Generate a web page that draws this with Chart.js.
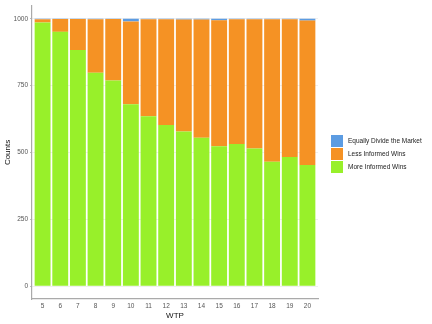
<!DOCTYPE html>
<html><head><meta charset="utf-8">
<script src="https://cdn.jsdelivr.net/npm/chart.js@4/dist/chart.umd.min.js"></script>
<style>html,body{margin:0;padding:0;background:#fff}#wrap{width:432px;height:324px}</style>
</head><body><div id="wrap"><canvas id="c" width="432" height="324"></canvas></div>
<script>
const categories = [5,6,7,8,9,10,11,12,13,14,15,16,17,18,19,20];
const moreInformed = [986,951,883,798,769,680,635,603,578,555,523,532,515,465,483,453];
const equallyDivide = [2,1,1,2,1,10,2,2,3,3,6,2,2,2,2,7];
const lessInformed = moreInformed.map((v,i)=>1000 - v - equallyDivide[i]);
const yTicks = [0,250,500,750,1000];
const seriesNames = ['More Informed Wins','Less Informed Wins','Equally Divide the Market'];
const seriesColors = ['rgb(152,240,42)','rgb(245,146,36)','rgb(92,156,226)'];

const toPts = arr => arr.map((v,i)=>({x:categories[i], y:v}));

const sideLegend = {
  id:'sideLegend',
  afterDraw(chart){
    const c = chart.ctx;
    const items = chart.data.datasets.map(d=>({label:d.label,color:d.backgroundColor})).reverse();
    const x0 = 331, boxW = 12, boxH = 12, step = 13;
    const top = 135;
    c.save();
    c.font = '6.5px "Liberation Sans"';
    c.textBaseline = 'middle';
    items.forEach((it,i)=>{
      const y = top + i*step;
      c.fillStyle = it.color;
      c.fillRect(x0, y, boxW, boxH);
      c.fillStyle = '#222';
      c.fillText(it.label, x0 + boxW + 5, y + boxH/2 + 0.5);
    });
    c.restore();
  }
};

new Chart(document.getElementById('c'), {
  type: 'bar',
  data: {
    datasets: [
      {label:seriesNames[0], data: toPts(moreInformed), backgroundColor:seriesColors[0]},
      {label:seriesNames[1], data: toPts(lessInformed), backgroundColor:seriesColors[1]},
      {label:seriesNames[2], data: toPts(equallyDivide), backgroundColor:seriesColors[2]}
    ]
  },
  plugins:[sideLegend],
  options: {
    responsive:false, animation:false, devicePixelRatio:1,
    layout:{padding:{top:4,right:114,left:0,bottom:0}},
    datasets:{bar:{barPercentage:0.9,categoryPercentage:1.0,borderWidth:0}},
    plugins:{ tooltip:{enabled:false}, legend:{display:false} },
    scales:{
      x:{type:'linear', stacked:true, min:4.4, max:20.6, offset:false,
        afterBuildTicks:(s)=>{s.ticks = categories.map(v=>({value:v}));},
        grid:{display:false, drawTicks:false},
        border:{display:true,color:'#aaa',width:1.2},
        ticks:{color:'#555',font:{family:'Liberation Sans',size:6.5},padding:3,maxRotation:0,autoSkip:false,
          callback:(v)=>String(v)},
        title:{display:true,text:'WTP',color:'#111',font:{family:'Liberation Sans',size:8},padding:{top:0,bottom:3}},
        afterFit:(s)=>{s.height=25;}
      },
      y:{stacked:true, min:-48, max:1048, z:1,
        afterBuildTicks:(s)=>{s.ticks = yTicks.map(v=>({value:v}));},
        grid:{color:'rgba(225,225,225,0.55)',lineWidth:1,tickLength:2,tickColor:'#bbb'},
        border:{display:true,color:'#aaa',width:1.2},
        ticks:{color:'#555',font:{family:'Liberation Sans',size:6.5},padding:2,callback:(v)=>String(v)},
        title:{display:true,text:'Counts',color:'#111',font:{family:'Liberation Sans',size:8},padding:{top:3,bottom:0}},
        afterFit:(s)=>{s.width=32;}
      }
    }
  }
});
</script></body></html>
